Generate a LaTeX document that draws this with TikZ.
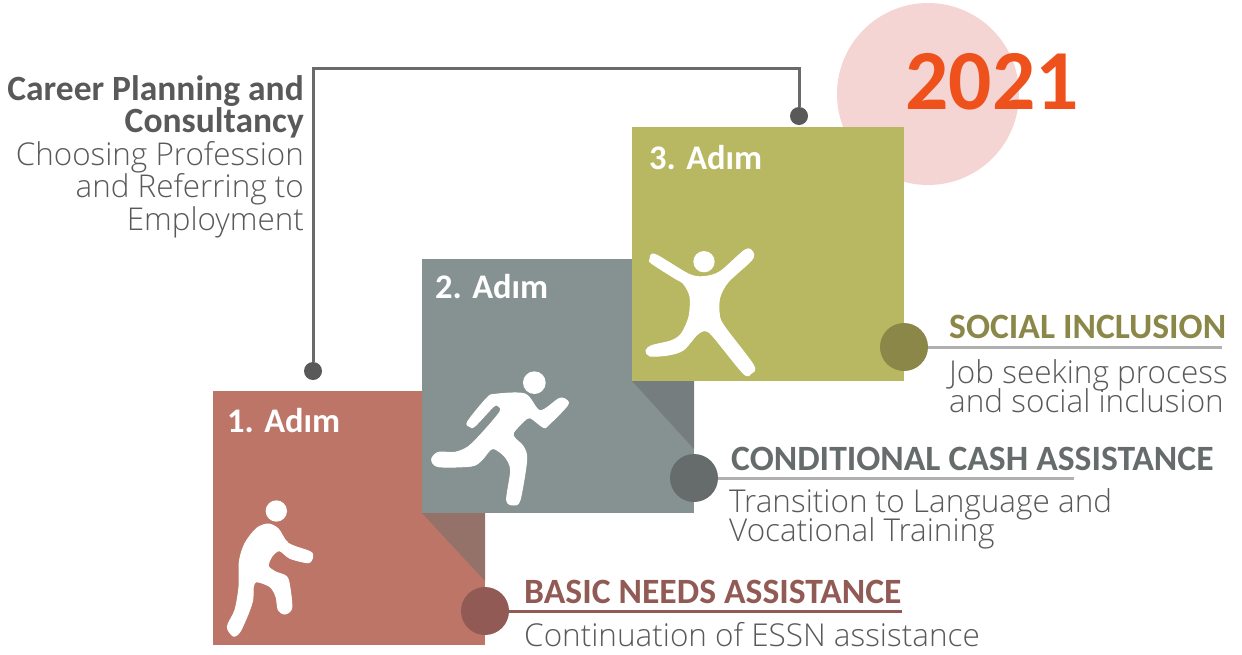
\documentclass[tikz,border=0pt]{standalone}
\usepackage{fontspec}
\setmainfont{Carlito}
\newfontfamily\lightf{Open Sans Light}
\definecolor{redA}{HTML}{BD7568}
\definecolor{redB}{HTML}{957269}
\definecolor{redC}{HTML}{925A55}
\definecolor{grayA}{HTML}{869291}
\definecolor{grayB}{HTML}{757D7F}
\definecolor{grayC}{HTML}{666B6C}
\definecolor{olvA}{HTML}{B8B762}
\definecolor{olvC}{HTML}{8A8748}
\definecolor{pinkA}{HTML}{F5D5D3}
\definecolor{orngA}{HTML}{EE511C}
\definecolor{txtA}{HTML}{595959}
\definecolor{ruleA}{HTML}{B0B0B0}
\newcommand{\cbold}{\fontsize{35.5}{32.5}\selectfont\bfseries}
\newcommand{\clight}{\fontsize{31.4}{32.5}\selectfont\lightf}
\newcommand{\descfont}{\fontsize{31.5}{28.5}\selectfont\lightf}
\tikzset{
 square box/.style={draw=none,minimum width=272pt,minimum height=254pt,inner sep=0pt,outer sep=0pt},
 step dot/.style={circle,draw=none,minimum size=48pt,inner sep=0pt,outer sep=0pt},
 link dot/.style={circle,fill=txtA,minimum size=18pt,inner sep=0pt,outer sep=0pt},
 step label/.style={anchor=base west,inner sep=0pt,text=white,font=\fontsize{34.5}{36}\selectfont\bfseries},
 head label/.style={anchor=base west,inner sep=0pt,font=\fontsize{35.6}{36}\selectfont\bfseries},
 desc label/.style={anchor=base west,inner sep=0pt,align=left,text=txtA,font=\descfont},
 figure/.style={fill=white,draw=white,line width=1pt},
}
\begin{document}
\begin{tikzpicture}[x=1pt,y=-1pt]
\useasboundingbox (0,0) rectangle (1242,654);
% year
\node[circle,fill=pinkA,minimum size=182pt,inner sep=0pt] (year) at (928,94) {};
\node[anchor=base,inner sep=0pt,text=orngA,font=\fontsize{85.5}{90}\selectfont\bfseries] (yeartext) at (992,109.5) {2021};
% link
\node[link dot] (d1) at (313,371) {};
\node[link dot] (d3) at (799,116) {};
\coordinate (c1) at (313,68);
\coordinate (c2) at (799,68);
\draw[line width=3pt,color=txtA!90!white] (d1) -- (c1) -- (c2) -- (d3);
\node[anchor=base east,inner sep=0pt,align=right,text=txtA,font=\fontsize{31.4}{32.5}\selectfont] (career) at (304,230)
 {\cbold Career Planning and\\\cbold Consultancy\\\clight Choosing Profession\\\clight and Referring to\\\clight Employment};
% step 1
\node[square box,fill=redA] (s1) at (349,518) {};
\fill[redB] (422,513) -- (485,513) -- (485,581) -- cycle;
\begin{scope}[shift={(200,380)},scale=1/3]
\fill[white] (229,393) circle (32);
\path[figure] plot[smooth cycle,tension=0.5] coordinates {
 (82,740) (105,690) (117,620) (118,545) (135,490) (170,445) (205,432) (235,447) (265,490)
 (330,515) (338,530) (325,548) (270,535) (238,512) (215,530) (205,558) (225,575) (260,590)
 (270,625) (275,685) (255,702) (235,690) (228,650) (210,620) (170,605) (160,620) (158,660)
 (145,700) (120,755) (100,768)};
\end{scope}
\node[step label] (l1) at (227,432) {1. Adım};
\node[step dot,fill=redC] (k1) at (485,611) {};
% step 2
\node[square box,fill=grayA] (s2) at (558,386) {};
\fill[grayB] (632,381) -- (694,381) -- (694,449) -- cycle;
\begin{scope}[shift={(415,250)},scale=1/3]
\fill[white] (358,398) circle (34);
\path[figure] plot[smooth cycle,tension=0.5] coordinates {
 (50,628) (70,607) (120,607) (160,590) (205,545) (255,485) (250,468) (235,470) (180,528)
 (165,530) (158,515) (215,445) (240,433) (330,432) (375,482) (430,447) (450,447) (458,465)
 (400,525) (385,532) (345,503) (325,515) (295,548) (300,565) (325,590) (335,630) (315,750)
 (295,765) (275,750) (287,660) (270,620) (240,597) (225,600) (200,630) (170,648) (70,650)};
\end{scope}
\node[step label] (l2) at (435,298) {2. Adım};
\node[step dot,fill=grayC] (k2) at (694,478) {};
% step 3
\node[square box,fill=olvA] (s3) at (768,254) {};
\begin{scope}[shift={(625,120)},scale=1/3]
\fill[white] (237,425) circle (32);
\path[figure] plot[smooth cycle,tension=0.5] coordinates {
 (75,418) (90,403) (190,462) (235,470) (285,455) (360,390) (383,395) (380,420) (310,485)
 (285,530) (282,575) (295,615) (385,735) (378,760) (355,760) (265,650) (240,632) (215,645)
 (175,690) (130,705) (75,708) (63,692) (80,677) (140,662) (170,640) (192,590) (195,530)
 (175,490) (150,475) (80,430)};
\end{scope}
\node[step label] (l3) at (649,169) {3. Adım};
\node[step dot,fill=olvC] (k3) at (904,347) {};
% rules
\coordinate (r1) at (902,611);
\coordinate (r2) at (1074,478);
\coordinate (r3) at (1222,347);
\draw[line width=3pt,color=redC] (k1) -- (r1);
\draw[line width=3pt,color=ruleA] (k2) -- (r2);
\draw[line width=3pt,color=ruleA] (k3) -- (r3);
% texts
\node[head label,text=redC] (h1) at (524,603) {BASIC NEEDS ASSISTANCE};
\node[desc label] (t1) at (524,646) {Continuation of ESSN assistance};
\node[head label,text=grayC] (h2) at (731,470) {CONDITIONAL CASH ASSISTANCE};
\node[desc label] (t2) at (729,541) {Transition to Language and\\[-4pt]Vocational Training};
\node[head label,text=olvC] (h3) at (949,338) {SOCIAL INCLUSION};
\node[desc label] (t3) at (949,412) {Job seeking process\\[-4pt]and social inclusion};
\end{tikzpicture}
\end{document}
